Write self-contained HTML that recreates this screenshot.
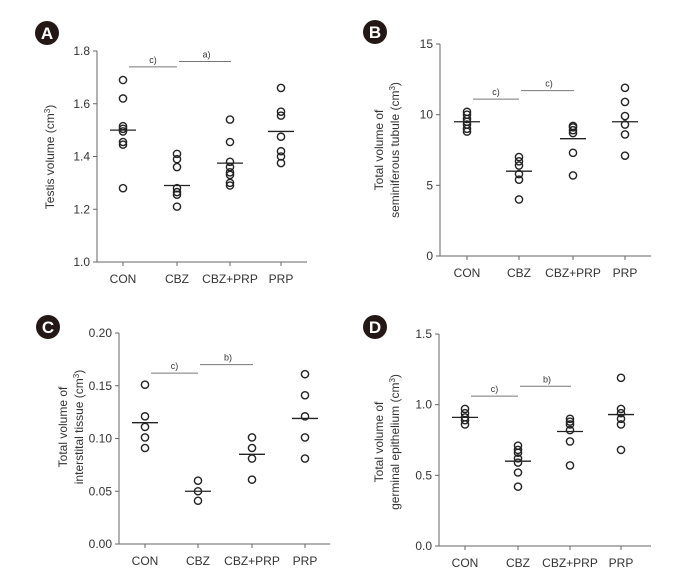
<!DOCTYPE html>
<html><head><meta charset="utf-8"><style>
html,body{margin:0;padding:0;background:#fff}
svg{display:block}
text{font-family:"Liberation Sans Narrow","Liberation Sans",sans-serif;fill:#333}
</style></head><body>
<svg id="fig" width="692" height="583" viewBox="0 0 692 583" xmlns="http://www.w3.org/2000/svg"></svg>
<script>
const categories = ["CON","CBZ","CBZ+PRP","PRP"];
// Panel A
const aValues = [[1.69,1.62,1.515,1.505,1.495,1.455,1.445,1.28],[1.41,1.39,1.36,1.28,1.265,1.255,1.21],[1.54,1.455,1.38,1.36,1.34,1.33,1.30,1.29],[1.66,1.57,1.555,1.475,1.42,1.40,1.375]];
const aMeans = [1.50,1.29,1.375,1.495];
const aTicks = [1.0,1.2,1.4,1.6,1.8];
const aTickLabels = ["1.0","1.2","1.4","1.6","1.8"];
const aSig = [[0,1,1.74,"c)"],[1,2,1.76,"a)"]];
// Panel B
const bValues = [[10.2,10.0,9.7,9.5,9.3,9.0,8.8],[7.0,6.7,6.4,5.8,5.4,4.0],[9.2,9.1,8.9,8.7,7.3,5.7],[11.9,10.9,9.9,9.3,8.6,7.1]];
const bMeans = [9.5,6.0,8.3,9.5];
const bTicks = [0,5,10,15];
const bTickLabels = ["0","5","10","15"];
const bSig = [[0,1,11.1,"c)"],[1,2,11.7,"c)"]];
// Panel C
const cValues = [[0.151,0.121,0.111,0.101,0.091],[0.060,0.050,0.041],[0.101,0.091,0.081,0.061],[0.161,0.141,0.121,0.101,0.081]];
const cMeans = [0.115,0.050,0.085,0.119];
const cTicks = [0,0.05,0.10,0.15,0.20];
const cTickLabels = ["0.00","0.05","0.10","0.15","0.20"];
const cSig = [[0,1,0.162,"c)"],[1,2,0.170,"b)"]];
// Panel D
const dValues = [[0.97,0.94,0.91,0.89,0.86],[0.71,0.68,0.66,0.62,0.59,0.52,0.42],[0.90,0.88,0.86,0.82,0.74,0.57],[1.19,0.97,0.94,0.90,0.86,0.68]];
const dMeans = [0.91,0.60,0.81,0.93];
const dTicks = [0,0.5,1.0,1.5];
const dTickLabels = ["0.0","0.5","1.0","1.5"];
const dSig = [[0,1,1.06,"c)"],[1,2,1.13,"b)"]];

const NS="http://www.w3.org/2000/svg";
const svg=document.getElementById('fig');
function mk(tag,attrs,parent,txt){const e=document.createElementNS(NS,tag);for(const k in attrs)e.setAttribute(k,attrs[k]);if(txt!==undefined)e.textContent=txt;(parent||svg).appendChild(e);return e;}

function panel(cfg){
  const g=mk('g',{});
  
  
  const y=v=>cfg.y1+(v-cfg.vmin)/(cfg.vmax-cfg.vmin)*(cfg.y0-cfg.y1)*-1+ (cfg.y0-cfg.y1)*0; // placeholder
  const ys=v=>cfg.y0-(v-cfg.vmin)/(cfg.vmax-cfg.vmin)*(cfg.y0-cfg.y1);
  const xs=i=>cfg.cx[i];
  // badge
  const b=mk('g',{},g);
  
  
  mk('circle',{cx:cfg.bx,cy:cfg.by,r:12,fill:'#231815'},b);
  mk('text',{x:cfg.bx,y:cfg.by+6,'text-anchor':'middle','font-size':17,'font-weight':'bold',style:'fill:#fff;font-family:Liberation Sans,sans-serif'},b,cfg.id);
  // axes
  const ya=mk('line',{x1:cfg.ax,y1:cfg.y1,x2:cfg.ax,y2:cfg.y0,stroke:'#666','stroke-width':1},g);
  
  
  const xa=mk('line',{x1:cfg.ax,y1:cfg.y0,x2:cfg.xend,y2:cfg.y0,stroke:'#666','stroke-width':1},g);
  
  
  cfg.ticks.forEach((t,i)=>{
    mk('line',{x1:cfg.ax-4,y1:ys(t),x2:cfg.ax,y2:ys(t),stroke:'#666'},g);
    const tl=mk('text',{x:cfg.ax-7,y:ys(t)+4,'text-anchor':'end','font-size':12},g,cfg.tickLabels[i]);
    
    
  });
  categories.forEach((c,i)=>{
    mk('line',{x1:xs(i),y1:cfg.y0,x2:xs(i),y2:cfg.y0+4,stroke:'#666'},g);
    const cl=mk('text',{x:xs(i),y:cfg.y0+21,'text-anchor':'middle','font-size':12},g,c);
    
    
  });
  // y title
  const tt=mk('text',{transform:`translate(${cfg.tx},${cfg.ty}) rotate(-90)`,'text-anchor':'middle','font-size':12},g);
  
  
  cfg.title.forEach((line,li)=>{
    const ts=mk('tspan',{x:0,dy:li===0?0:16},tt);
    ts.appendChild(document.createTextNode(line));
    if(li===cfg.title.length-1){const s=mk('tspan',{dy:-4,'font-size':8},ts,'3');mk('tspan',{dy:4},ts,')');}
  });
  // points
  cfg.values.forEach((arr,i)=>{
    arr.forEach(v=>{
      const p=mk('circle',{cx:xs(i),cy:ys(v),r:3.6,fill:'none',stroke:'#222','stroke-width':1.4},g);
      
      
    });
    const m=mk('line',{x1:xs(i)-13,y1:ys(cfg.means[i]),x2:xs(i)+13,y2:ys(cfg.means[i]),stroke:'#222','stroke-width':1.3},g);
    
    
  });
  // significance
  cfg.sig.forEach(s=>{
    const x1=xs(s[0])+6,x2=xs(s[1])-1+ (s[0]===1?3:0);
    const l=mk('line',{x1:xs(s[0])+(s[0]===0?6:2),y1:ys(s[2]),x2:xs(s[1])+(s[1]===2?1:0),y2:ys(s[2]),stroke:'#777','stroke-width':1},g);
    
    
    const st=mk('text',{x:(xs(s[0])+xs(s[1]))/2+3,y:ys(s[2])-4,'text-anchor':'middle','font-size':9},g,s[3]);
    
    
  });
}
panel({id:'A',values:aValues,means:aMeans,ticks:aTicks,tickLabels:aTickLabels,sig:aSig,vmin:1.0,vmax:1.8,
  ax:97,xend:307,y0:262,y1:51,cx:[123,177,230,281],bx:47,by:33,tx:54,ty:157,title:['Testis volume (cm']});
panel({id:'B',values:bValues,means:bMeans,ticks:bTicks,tickLabels:bTickLabels,sig:bSig,vmin:0,vmax:15,
  ax:440,xend:651,y0:256,y1:44,cx:[467,519,573,625],bx:375,by:32,tx:383,ty:150,title:['Total volume of','seminiferous tubule (cm']});
panel({id:'C',values:cValues,means:cMeans,ticks:cTicks,tickLabels:cTickLabels,sig:cSig,vmin:0,vmax:0.20,
  ax:119,xend:330,y0:544,y1:333,cx:[145,198,252,305],bx:48,by:327,tx:67,ty:427,title:['Total volume of','interstital tissue (cm']});
panel({id:'D',values:dValues,means:dMeans,ticks:dTicks,tickLabels:dTickLabels,sig:dSig,vmin:0,vmax:1.5,
  ax:439,xend:651,y0:546,y1:334,cx:[465,518,570,621],bx:375,by:327,tx:383,ty:442,title:['Total volume of','germinal epithelium (cm']});
</script>
</body></html>
